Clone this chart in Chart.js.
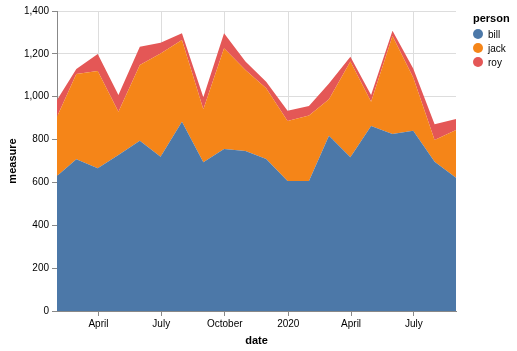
<!DOCTYPE html>
<html lang="en">
<head>
    <meta charset="UTF-8">
    <title>Stacked area by person</title>
    <script src="https://cdn.jsdelivr.net/npm/chart.js"></script>
    <style>
        body {
            margin: 0;
            padding: 0;
            background: #fff;
            font-family: "Liberation Sans", Arial, sans-serif;
        }
        .wrap {
            position: relative;
            width: 517px;
            height: 351px;
        }
        .legend {
            position: absolute;
            left: 473px;
            top: 12px;
            font-size: 10px;
            color: #000;
        }
        .legend .title {
            font-weight: bold;
            font-size: 11px;
            margin-bottom: 3px;
        }
        .legend .item {
            display: flex;
            align-items: center;
            height: 14px;
        }
        .legend .dot {
            width: 10px;
            height: 10px;
            border-radius: 50%;
            margin-right: 5px;
        }
    </style>
</head>
<body>
    <div class="wrap">
        <canvas id="areaChart" width="517" height="351"></canvas>
        <div class="legend" id="legend"></div>
    </div>
    <script>
        // month-end dates, one point per month
        const dates = ['2019-01-31', '2019-02-28', '2019-03-31', '2019-04-30', '2019-05-31', '2019-06-30',
                       '2019-07-31', '2019-08-31', '2019-09-30', '2019-10-31', '2019-11-30', '2019-12-31',
                       '2020-01-31', '2020-02-29', '2020-03-31', '2020-04-30', '2020-05-31', '2020-06-30',
                       '2020-07-31', '2020-08-31'];
        const persons = ['bill', 'jack', 'roy'];
        const bill = [630, 708, 666, 728, 795, 720, 883, 694, 756, 747, 709, 607, 607, 818, 717, 863, 826, 841, 697, 622];
        const jack = [277, 398, 454, 202, 353, 482, 382, 248, 470, 378, 330, 280, 305, 170, 447, 114, 457, 249, 101, 223];
        const roy = [78, 23, 79, 78, 85, 50, 31, 55, 70, 39, 31, 48, 45, 74, 23, 31, 25, 42, 73, 51];
        const tickDates = ['2019-04-01', '2019-07-01', '2019-10-01', '2020-01-01', '2020-04-01', '2020-07-01'];
        const tickLabels = ['April', 'July', 'October', '2020', 'April', 'July'];
        const colors = ['#4c78a8', '#f58518', '#e45756'];

        function toDay(s) {
            const p = s.split('-').map(Number);
            return Date.UTC(p[0], p[1] - 1, p[2]) / 86400000;
        }

        const series = [bill, jack, roy];
        const datasets = persons.map((name, i) => ({
            label: name,
            data: series[i].map((v, j) => ({ x: toDay(dates[j]), y: v })),
            backgroundColor: colors[i],
            borderColor: colors[i],
            borderWidth: 0,
            pointRadius: 0,
            fill: i === 0 ? 'origin' : '-1',
            tension: 0
        }));

        const font = { family: '"Liberation Sans", Arial, sans-serif', size: 10 };

        new Chart(document.getElementById('areaChart'), {
            type: 'line',
            data: { datasets: datasets },
            options: {
                responsive: false,
                animation: false,
                layout: { padding: { left: 0, top: 11, right: 61, bottom: 0 } },
                plugins: {
                    legend: { display: false },
                    tooltip: { enabled: false }
                },
                scales: {
                    x: {
                        type: 'linear',
                        min: toDay(dates[0]),
                        max: toDay(dates[dates.length - 1]),
                        afterBuildTicks: scale => {
                            scale.ticks = tickDates.map(d => ({ value: toDay(d) }));
                        },
                        afterFit: scale => { scale.height = 40; },
                        ticks: {
                            autoSkip: false,
                            maxRotation: 0,
                            padding: 2,
                            color: '#000',
                            font: font,
                            callback: (value, index) => tickLabels[index]
                        },
                        grid: { color: '#ddd', tickColor: '#888', tickLength: 5 },
                        border: { color: '#888' },
                        title: {
                            display: true,
                            text: 'date',
                            color: '#000',
                            font: { family: font.family, size: 11, weight: 'bold' },
                            padding: { top: 0, bottom: 3 }
                        }
                    },
                    y: {
                        stacked: true,
                        min: 0,
                        max: 1400,
                        afterFit: scale => { scale.width = 57; },
                        ticks: {
                            stepSize: 200,
                            padding: 3,
                            color: '#000',
                            font: font
                        },
                        grid: { color: '#ddd', tickColor: '#888', tickLength: 5 },
                        border: { color: '#888' },
                        title: {
                            display: true,
                            text: 'measure',
                            color: '#000',
                            font: { family: font.family, size: 11, weight: 'bold' },
                            padding: { top: 6, bottom: 0 }
                        }
                    }
                }
            }
        });

        // legend
        const legend = document.getElementById('legend');
        let html = '<div class="title">person</div>';
        persons.forEach((name, i) => {
            html += '<div class="item"><span class="dot" style="background:' + colors[i] + '"></span>' + name + '</div>';
        });
        legend.innerHTML = html;
    </script>
</body>
</html>
